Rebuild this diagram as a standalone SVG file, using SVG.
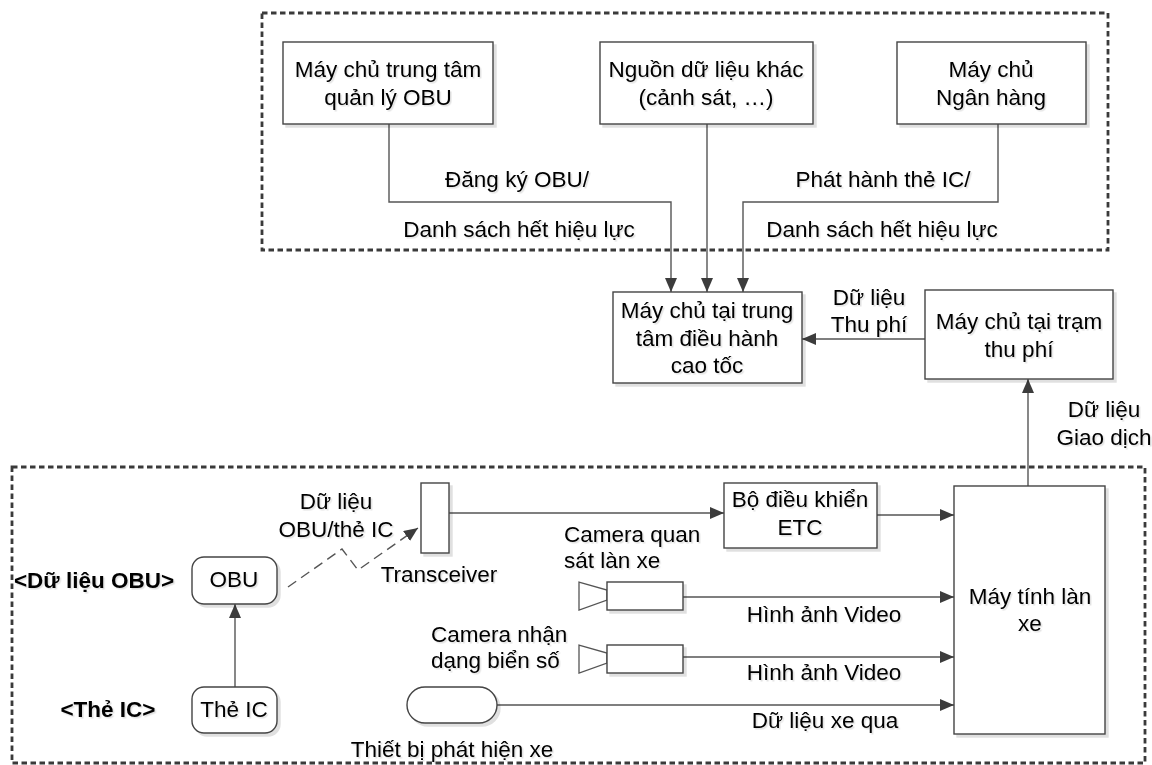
<svg xmlns="http://www.w3.org/2000/svg" width="1152" height="765" viewBox="0 0 1152 765">
  <defs>
    <marker id="arrow" markerUnits="userSpaceOnUse" markerWidth="15" markerHeight="12" refX="14" refY="6" orient="auto">
      <path d="M0,0 L14,6 L0,12 Z" fill="#3c3c3c"/>
    </marker>
    <filter id="shadow" x="-10%" y="-10%" width="130%" height="130%">
      <feDropShadow dx="3" dy="3" stdDeviation="0.6" flood-color="#000" flood-opacity="0.12"/>
    </filter>
    <filter id="tshadow" x="-5%" y="-20%" width="115%" height="150%">
      <feDropShadow dx="1.5" dy="1.5" stdDeviation="0.5" flood-color="#000" flood-opacity="0.12"/>
    </filter>
  </defs>
  <style>
    text { font-family: "Liberation Sans", Arial, sans-serif; font-size: 22.5px; fill: #000; filter: url(#tshadow); }
    .c { text-anchor: middle; }
    .b { font-weight: bold; }
    .box { fill: #fff; stroke: #444; stroke-width: 1.4; filter: url(#shadow); }
    .frame { fill: none; stroke: #3a3a3a; stroke-width: 2.8; stroke-dasharray: 5.5 3.5; }
    .link { fill: none; stroke: #555; stroke-width: 1.4; marker-end: url(#arrow); }
    .plain { fill: #fff; stroke: #555; stroke-width: 1.3; }
    .radio { fill: none; stroke: #555; stroke-width: 1.4; stroke-dasharray: 10 6; marker-end: url(#arrow); }
  </style>

  <rect width="1152" height="765" fill="#fff"/>

  <!-- group frames -->
  <rect class="frame" x="262" y="13" width="846" height="237"/>
  <rect class="frame" x="12" y="467" width="1133" height="296"/>

  <!-- connectors -->
  <g id="connectors">
    <path class="link" d="M389,124 V202 H671 V292"/>
    <path class="link" d="M707,124 V292"/>
    <path class="link" d="M998,124 V202 H743 V292"/>
    <path class="link" d="M925,339 H802"/>
    <path class="link" d="M1028,486 V379"/>
    <path class="link" d="M449,513 H724"/>
    <path class="link" d="M877,515 H954"/>
    <path class="link" d="M683,597 H954"/>
    <path class="link" d="M683,657 H954"/>
    <path class="link" d="M497,705 H954"/>
    <path class="link" d="M235,687 V604"/>
    <path class="radio" d="M288,587 L342,549 L358,570 L418,528"/>

    <text class="c" x="517" y="187">Đăng ký OBU/</text>
    <text class="c" x="519" y="237">Danh sách hết hiệu lực</text>
    <text class="c" x="883" y="187">Phát hành thẻ IC/</text>
    <text class="c" x="882" y="237">Danh sách hết hiệu lực</text>
    <text class="c" x="869" y="305">Dữ liệu</text>
    <text class="c" x="869" y="332">Thu phí</text>
    <text class="c" x="1104" y="417">Dữ liệu</text>
    <text class="c" x="1104" y="445">Giao dịch</text>
    <text class="c" x="336" y="509">Dữ liệu</text>
    <text class="c" x="336" y="537">OBU/thẻ IC</text>
    <text class="c" x="824" y="622">Hình ảnh Video</text>
    <text class="c" x="824" y="680">Hình ảnh Video</text>
    <text class="c" x="825" y="728">Dữ liệu xe qua</text>
  </g>

  <!-- back-office servers -->
  <g id="obu-server">
    <rect class="box" x="283" y="42" width="210" height="82"/>
    <text class="c" x="388" y="77">Máy chủ trung tâm</text>
    <text class="c" x="388" y="105">quản lý OBU</text>
  </g>
  <g id="other-sources">
    <rect class="box" x="600" y="42" width="213" height="82"/>
    <text class="c" x="706" y="77">Nguồn dữ liệu khác</text>
    <text class="c" x="706" y="105">(cảnh sát, …)</text>
  </g>
  <g id="bank-server">
    <rect class="box" x="897" y="42" width="189" height="82"/>
    <text class="c" x="991" y="77">Máy chủ</text>
    <text class="c" x="991" y="105">Ngân hàng</text>
  </g>
  <g id="control-center">
    <rect class="box" x="613" y="292" width="189" height="91"/>
    <text class="c" x="707" y="318">Máy chủ tại trung</text>
    <text class="c" x="707" y="346">tâm điều hành</text>
    <text class="c" x="707" y="373">cao tốc</text>
  </g>
  <g id="toll-station">
    <rect class="box" x="925" y="290" width="188" height="89"/>
    <text class="c" x="1019" y="329">Máy chủ tại trạm</text>
    <text class="c" x="1019" y="357">thu phí</text>
  </g>

  <!-- lane equipment -->
  <g id="lane-computer">
    <rect class="box" x="954" y="486" width="151" height="248"/>
    <text class="c" x="1030" y="604">Máy tính làn</text>
    <text class="c" x="1030" y="631">xe</text>
  </g>
  <g id="etc-controller">
    <rect class="box" x="724" y="483" width="153" height="65"/>
    <text class="c" x="800" y="507">Bộ điều khiển</text>
    <text class="c" x="800" y="535">ETC</text>
  </g>
  <g id="transceiver">
    <rect class="box" x="421" y="483" width="28" height="70"/>
    <text class="c" x="439" y="582">Transceiver</text>
  </g>
  <g id="lane-camera">
    <path class="plain" d="M579,582 L607,590 L607,600 L579,610 Z"/>
    <rect class="box" x="607" y="582" width="76" height="28"/>
    <text x="564" y="542">Camera quan</text>
    <text x="564" y="568">sát làn xe</text>
  </g>
  <g id="plate-camera">
    <path class="plain" d="M579,645 L607,653 L607,663 L579,673 Z"/>
    <rect class="box" x="607" y="645" width="76" height="28"/>
    <text x="431" y="642">Camera nhận</text>
    <text x="431" y="668">dạng biển số</text>
  </g>
  <g id="vehicle-detector">
    <rect class="box" x="407" y="687" width="90" height="36" rx="18" ry="18"/>
    <text class="c" x="452" y="757">Thiết bị phát hiện xe</text>
  </g>
  <g id="obu">
    <rect class="box" x="192" y="557" width="85" height="47" rx="12" ry="12"/>
    <text class="c" x="234" y="587">OBU</text>
    <text class="c b" x="94" y="588">&lt;Dữ liệu OBU&gt;</text>
  </g>
  <g id="ic-card">
    <rect class="box" x="192" y="687" width="85" height="46" rx="12" ry="12"/>
    <text class="c" x="234" y="717">Thẻ IC</text>
    <text class="c b" x="108" y="717">&lt;Thẻ IC&gt;</text>
  </g>
</svg>
